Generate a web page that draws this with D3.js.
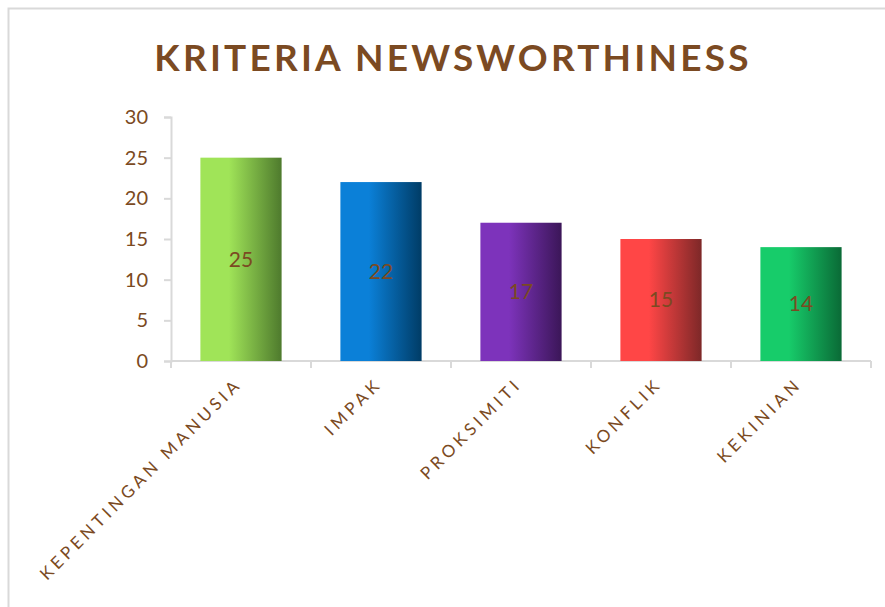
<!DOCTYPE html>
<html>
<head>
<meta charset="utf-8">
<script src="https://cdn.jsdelivr.net/npm/d3@7"></script>
<style>
	body { margin: 0; background: #fff; }
	svg { display: block; font-family: Lato, "Open Sans", sans-serif; }
</style>
</head>
<body>
<div id="chart"></div>
<script>
const categories = ["KEPENTINGAN MANUSIA", "IMPAK", "PROKSIMITI", "KONFLIK", "KEKINIAN"];
const values = [25, 22, 17, 15, 14];
const yTicks = [0, 5, 10, 15, 20, 25, 30];
const barColors = [
	["#a0e458", "#4e7a2d"],
	["#0b80d8", "#003c66"],
	["#7d33bb", "#3b1658"],
	["#ff4646", "#7d2828"],
	["#17cc6a", "#0a6a36"],
];

const width = 885;
const height = 607;
const margin = { top: 117, right: 14, bottom: 246, left: 171 };
const brown = "#7b4a22";
const grid = "#d9d9d9";

const svg = d3
	.select("#chart")
	.append("svg")
	.attr("width", width)
	.attr("height", height);

//frame
svg
	.append("rect")
	.attr("x", 8.5)
	.attr("y", 8.5)
	.attr("width", width + 20)
	.attr("height", height + 20)
	.attr("fill", "none")
	.attr("stroke", grid)
	.attr("stroke-width", 2);

//title
svg
	.append("text")
	.attr("x", 453)
	.attr("y", 71)
	.attr("text-anchor", "middle")
	.attr("fill", brown)
	.attr("font-size", 37)
	.attr("font-weight", "bold")
	.attr("letter-spacing", 3.2)
	.text("KRITERIA NEWSWORTHINESS");

const x = d3
	.scaleBand()
	.domain(categories)
	.range([margin.left, width - margin.right])
	.paddingInner(0.42)
	.paddingOuter(0.21);

const y = d3
	.scaleLinear()
	.domain([0, 30])
	.range([height - margin.bottom, margin.top]);

//gradients
const defs = svg.append("defs");
barColors.forEach((c, i) => {
	const g = defs
		.append("linearGradient")
		.attr("id", `grad${i}`)
		.attr("x1", 0)
		.attr("x2", 1)
		.attr("y1", 0)
		.attr("y2", 0);
	g.append("stop").attr("offset", 0).attr("stop-color", c[0]);
	g.append("stop").attr("offset", 0.35).attr("stop-color", c[0]);
	g.append("stop").attr("offset", 1).attr("stop-color", c[1]);
});

//y axis
const yAxis = svg
	.append("g")
	.attr("transform", `translate(${margin.left},0)`)
	.call(d3.axisLeft(y).tickValues(yTicks).tickSize(7).tickPadding(16));
yAxis.select(".domain").attr("stroke", grid).attr("stroke-width", 2);
yAxis.selectAll(".tick line").attr("stroke", grid).attr("stroke-width", 2);
yAxis
	.selectAll(".tick text")
	.attr("fill", brown)
	.attr("font-size", 20)
	.attr("font-family", "Lato, sans-serif");

//x axis line and band ticks
const x0 = y(0);
const bandStep = x.step();
const bounds = d3.range(categories.length + 1).map(
	(i) => margin.left + i * bandStep
);
svg
	.append("line")
	.attr("x1", margin.left)
	.attr("x2", width - margin.right)
	.attr("y1", x0)
	.attr("y2", x0)
	.attr("stroke", grid)
	.attr("stroke-width", 2);
svg
	.selectAll(".xtick")
	.data(bounds)
	.join("line")
	.attr("class", "xtick")
	.attr("x1", (d) => d)
	.attr("x2", (d) => d)
	.attr("y1", x0)
	.attr("y2", x0 + 7)
	.attr("stroke", grid)
	.attr("stroke-width", 2);

//bars
svg
	.selectAll(".bar")
	.data(values)
	.join("rect")
	.attr("class", "bar")
	.attr("x", (d, i) => x(categories[i]))
	.attr("y", (d) => y(d))
	.attr("width", x.bandwidth())
	.attr("height", (d) => y(0) - y(d))
	.attr("fill", (d, i) => `url(#grad${i})`);

//bar labels
svg
	.selectAll(".bar-label")
	.data(values)
	.join("text")
	.attr("class", "bar-label")
	.attr("x", (d, i) => x(categories[i]) + x.bandwidth() / 2)
	.attr("y", (d) => (y(d) + y(0)) / 2)
	.attr("dy", "0.35em")
	.attr("text-anchor", "middle")
	.attr("fill", brown)
	.attr("font-size", 21)
	.text((d) => d);

//category labels
svg
	.selectAll(".cat-label")
	.data(categories)
	.join("text")
	.attr("class", "cat-label")
	.attr("transform", (d) => `translate(${x(d) + x.bandwidth() / 2 + 2},${x0 + 24}) rotate(-45)`)
	.attr("text-anchor", "end")
	.attr("fill", brown)
	.attr("font-size", 17)
	.attr("letter-spacing", 4)
	.text((d) => d);
</script>
</body>
</html>
